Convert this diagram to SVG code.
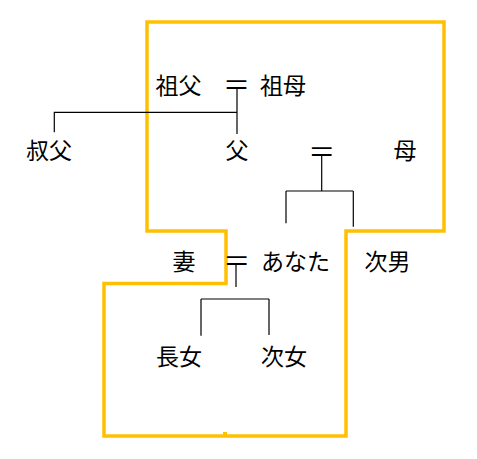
<svg xmlns="http://www.w3.org/2000/svg" width="477" height="459" viewBox="0 0 477 459">
<style>
.t{font-family:"Noto Sans CJK JP","Noto Sans CJK SC",sans-serif;font-size:23px;fill:#000;dominant-baseline:central}
.e{font-family:"Noto Sans CJK JP","Noto Sans CJK SC",sans-serif;font-size:27px;fill:#000;dominant-baseline:central;text-anchor:middle}
.c{stroke:#000;stroke-width:1.2;fill:none}
.b{stroke:#FFC000;stroke-width:3.5;fill:none;stroke-linejoin:miter}
</style>
<rect width="477" height="459" fill="#fff"/>
<g id="outline">
<polygon class="b" points="147,22 444,22 444,231 346,231 346,436 104,436 104,283.5 226,283.5 226,231 147,231"/>
<rect x="223" y="432" width="4" height="3" fill="#FFC000"/>
</g>
<g id="connectors">
<path class="c" d="M237,87 V134 M237,112.3 H54.3 V132.3"/>
<path class="c" d="M321.7,154 V191 M286,191 H353.3 M286,191 V223.3 M353.3,191 V226.7"/>
<path class="c" d="M236,263 V287 M201,299 H269 M201,299 V335.7 M269,299 V335"/>
</g>
<g id="sofu"><text class="t" x="155.5" y="83.5">祖父</text></g>
<g id="eq1"><text class="e" x="236.5" y="83.5">＝</text></g>
<g id="sobo"><text class="t" x="260" y="83.5">祖母</text></g>
<g id="oji"><text class="t" x="26" y="148.5">叔父</text></g>
<g id="chichi"><text class="t" x="225.5" y="148.5">父</text></g>
<g id="eq2"><text class="e" x="321.7" y="150">＝</text></g>
<g id="haha"><text class="t" x="393.5" y="148.5">母</text></g>
<g id="tsuma"><text class="t" x="172.5" y="259.5">妻</text></g>
<g id="eq3"><text class="e" x="236.7" y="259.5">＝</text></g>
<g id="anata"><text class="t" x="261" y="259.5">あなた</text></g>
<g id="jinan"><text class="t" x="364.5" y="259.5">次男</text></g>
<g id="choujo"><text class="t" x="156" y="355">長女</text></g>
<g id="jijo"><text class="t" x="261" y="355">次女</text></g>
</svg>
